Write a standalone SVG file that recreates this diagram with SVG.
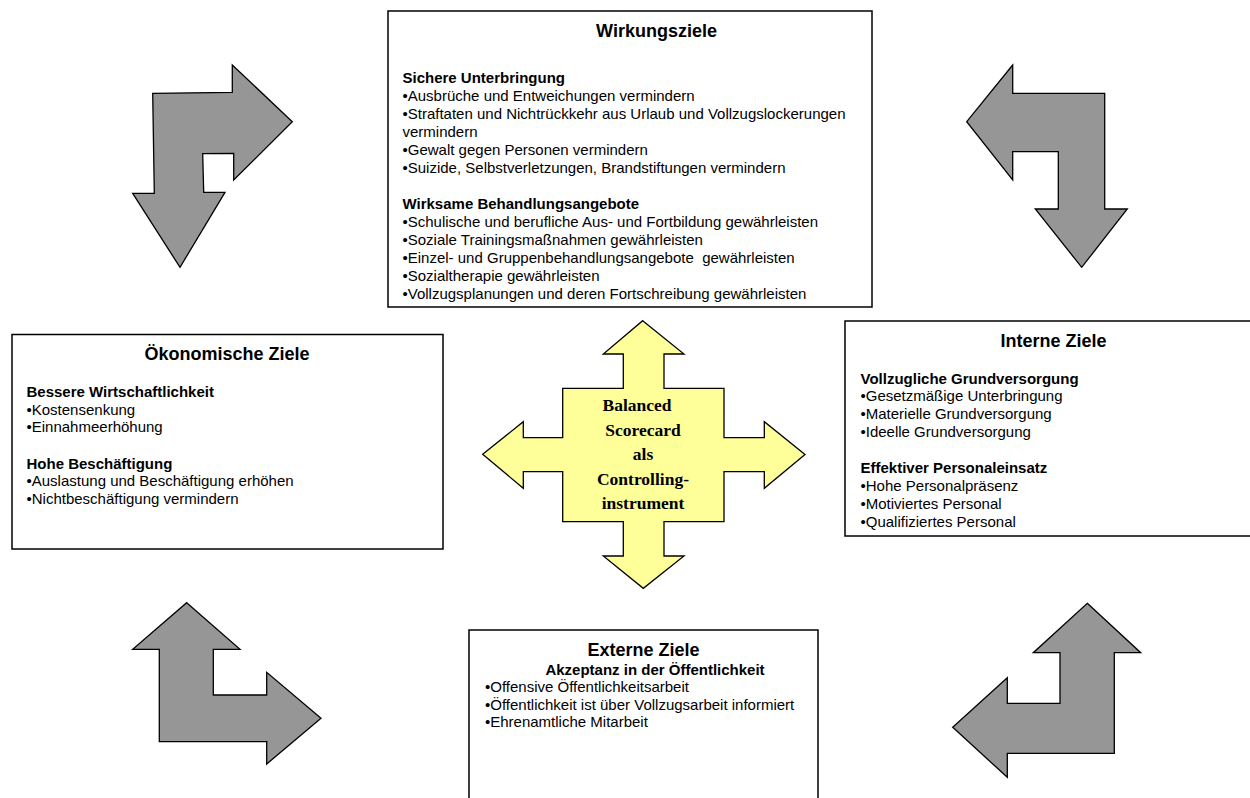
<svg xmlns="http://www.w3.org/2000/svg" width="1250" height="798" viewBox="0 0 1250 798">
<style>
.box{fill:#fff;stroke:#000;stroke-width:1.5}
.garrow{fill:#969696;stroke:#000;stroke-width:1.3;stroke-linejoin:miter}
.yarrow{fill:#FFFF99;stroke:#000;stroke-width:1.3}
.t{font-family:"Liberation Sans",Arial,sans-serif;font-size:18px;font-weight:bold;fill:#000;text-anchor:middle}
.h{font-family:"Liberation Sans",Arial,sans-serif;font-size:15px;font-weight:bold;fill:#000}
.b{font-family:"Liberation Sans",Arial,sans-serif;font-size:15px;fill:#000}
.c{font-family:"Liberation Serif","Times New Roman",serif;font-size:17.5px;font-weight:bold;fill:#000;text-anchor:middle}
</style>
<rect width="1250" height="798" fill="#fff"/>
<g id="connectors">
<polygon class="garrow" points="152.7,93.3 232.3,92.3 232.3,65 292.3,121.7 233.7,180 233.7,153.3 202.7,153.7 203.7,192.3 225,192.3 180,267.3 132.7,193.3 154.3,193.3"/>
<polygon class="garrow" points="1012.7,65 966.7,121.7 1012.7,180 1012.7,151.7 1058.3,151.7 1058.3,209 1035.3,209 1081.7,267.3 1127.3,209 1104.7,209 1104.7,93.3 1012.7,93.3"/>
<polygon class="garrow" points="186.7,602.7 240,649.3 213.3,649.3 213.3,695 266.7,695 266.7,672.3 321,718.3 266.7,764 266.7,741.7 159.3,741.7 159.3,649.3 132.7,649.3"/>
<polygon class="garrow" points="1087.3,603.3 1140.7,652.7 1114.3,652.7 1114.3,753.3 1007.3,753.3 1007.3,777.3 952.7,727.3 1007.3,677.7 1007.3,703.3 1060,703.3 1060,652.7 1033.3,652.7"/>
</g>
<g id="wirkungsziele">
<rect class="box" x="388" y="11" width="484" height="296"/>
<text class="t" x="656.5" y="37">Wirkungsziele</text>
<text class="h" x="402.5" y="83">Sichere Unterbringung</text>
<text class="b" x="402.5" y="101">•Ausbrüche und Entweichungen vermindern</text>
<text class="b" x="402.5" y="119">•Straftaten und Nichtrückkehr aus Urlaub und Vollzugslockerungen</text>
<text class="b" x="402.5" y="137">vermindern</text>
<text class="b" x="402.5" y="155">•Gewalt gegen Personen vermindern</text>
<text class="b" x="402.5" y="173">•Suizide, Selbstverletzungen, Brandstiftungen vermindern</text>
<text class="h" x="402.5" y="208.5">Wirksame Behandlungsangebote</text>
<text class="b" x="402.5" y="226.5">•Schulische und berufliche Aus- und Fortbildung gewährleisten</text>
<text class="b" x="402.5" y="244.5">•Soziale Trainingsmaßnahmen gewährleisten</text>
<text class="b" x="402.5" y="262.5">•Einzel- und Gruppenbehandlungsangebote&#160; gewährleisten</text>
<text class="b" x="402.5" y="280.5">•Sozialtherapie gewährleisten</text>
<text class="b" x="402.5" y="298.5">•Vollzugsplanungen und deren Fortschreibung gewährleisten</text>
</g>
<g id="oekonomische">
<rect class="box" x="12" y="334.5" width="431" height="214.5"/>
<text class="t" x="227" y="359.5">Ökonomische Ziele</text>
<text class="h" x="26.5" y="396.5">Bessere Wirtschaftlichkeit</text>
<text class="b" x="26.5" y="414.5">•Kostensenkung</text>
<text class="b" x="26.5" y="432">•Einnahmeerhöhung</text>
<text class="h" x="26.5" y="468.5">Hohe Beschäftigung</text>
<text class="b" x="26.5" y="486">•Auslastung und Beschäftigung erhöhen</text>
<text class="b" x="26.5" y="504">•Nichtbeschäftigung vermindern</text>
</g>
<g id="interne">
<rect class="box" x="845" y="321" width="420" height="215"/>
<text class="t" x="1053.5" y="347">Interne Ziele</text>
<text class="h" x="860.5" y="383.5">Vollzugliche Grundversorgung</text>
<text class="b" x="860.5" y="401">•Gesetzmäßige Unterbringung</text>
<text class="b" x="860.5" y="419">•Materielle Grundversorgung</text>
<text class="b" x="860.5" y="437">•Ideelle Grundversorgung</text>
<text class="h" x="860.5" y="473">Effektiver Personaleinsatz</text>
<text class="b" x="860.5" y="491">•Hohe Personalpräsenz</text>
<text class="b" x="860.5" y="508.5">•Motiviertes Personal</text>
<text class="b" x="860.5" y="526.5">•Qualifiziertes Personal</text>
</g>
<g id="externe">
<rect class="box" x="469" y="630" width="349" height="180"/>
<text class="t" x="643.5" y="656">Externe Ziele</text>
<text class="h" x="655" y="674.5" text-anchor="middle">Akzeptanz in der Öffentlichkeit</text>
<text class="b" x="485" y="692">•Offensive Öffentlichkeitsarbeit</text>
<text class="b" x="485" y="709.5">•Öffentlichkeit ist über Vollzugsarbeit informiert</text>
<text class="b" x="485" y="727">•Ehrenamtliche Mitarbeit</text>
</g>
<g id="balanced-scorecard">
<polygon class="yarrow" points="642.7,320.7 684,354 664,354 664,388.3 724,388.3 724,437.7 764.3,437.7 764.3,421.7 805,454.5 764.3,488.3 764.3,471.7 724,471.7 724,521.7 664,521.7 664,556 684,556 643.3,588.3 603.3,556 623.3,556 623.3,521.7 562.7,521.7 562.7,471.7 523.3,471.7 523.3,488.3 482.7,454.3 523.3,421.7 523.3,437.7 562.7,437.7 562.7,388.3 623.3,388.3 623.3,354 603.3,354"/>
<text class="c" x="637" y="411">Balanced</text>
<text class="c" x="643" y="435.5">Scorecard</text>
<text class="c" x="643" y="460">als</text>
<text class="c" x="643" y="485">Controlling-</text>
<text class="c" x="643" y="508.5">instrument</text>
</g>
</svg>
